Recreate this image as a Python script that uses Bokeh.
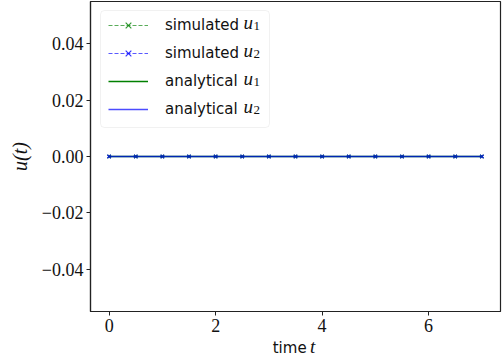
from bokeh.plotting import figure
from bokeh.models import Range1d, FixedTicker, Legend, LegendItem, Label, Div, BoxAnnotation
from bokeh.layouts import column
from bokeh.embed import file_html
from bokeh.resources import INLINE

# ---- data ----
t_sim = [0.0, 0.5, 1.0, 1.5, 2.0, 2.5, 3.0, 3.5, 4.0, 4.5, 5.0, 5.5, 6.0, 6.5, 7.0]
u1_sim = [0.0, 0.0, 0.0, 0.0, 0.0, 0.0, 0.0, 0.0, 0.0, 0.0, 0.0, 0.0, 0.0, 0.0, 0.0]
u2_sim = [0.0, 0.0, 0.0, 0.0, 0.0, 0.0, 0.0, 0.0, 0.0, 0.0, 0.0, 0.0, 0.0, 0.0, 0.0]
t_an = [0.0, 0.5, 1.0, 1.5, 2.0, 2.5, 3.0, 3.5, 4.0, 4.5, 5.0, 5.5, 6.0, 6.5, 7.0]
u1_an = [0.0, 0.0, 0.0, 0.0, 0.0, 0.0, 0.0, 0.0, 0.0, 0.0, 0.0, 0.0, 0.0, 0.0, 0.0]
u2_an = [0.0, 0.0, 0.0, 0.0, 0.0, 0.0, 0.0, 0.0, 0.0, 0.0, 0.0, 0.0, 0.0, 0.0, 0.0]

x_ticks = [0, 2, 4, 6]
x_tick_labels = ["0", "2", "4", "6"]
y_ticks = [-0.04, -0.02, 0.0, 0.02, 0.04]
y_tick_labels = ["\u22120.04", "\u22120.02", "0.00", "0.02", "0.04"]

legend_words = ["simulated", "simulated", "analytical", "analytical"]
legend_subs = ["1", "2", "1", "2"]
x_label_word = "time"
x_label_var = "t"
y_label = "u(t)"

GREEN = "#008000"
BLUE = "#0000ff"
SERIF = "Liberation Serif"
SANS = "DejaVu Sans"
INK = "#111111"

p = figure(width=503, height=336, output_backend="svg", toolbar_location=None,
           x_range=Range1d(-0.35, 7.35), y_range=Range1d(-0.055, 0.055),
           min_border_left=90, min_border_right=3, min_border_top=1, min_border_bottom=25)

p.grid.visible = False
p.outline_line_color = "#222222"
p.outline_line_width = 1.2
p.background_fill_color = "white"
p.border_fill_color = "white"

for ax in (p.xaxis[0], p.yaxis[0]):
    ax.axis_line_color = "#222222"
    ax.axis_line_width = 1.2
    ax.major_tick_line_color = "#222222"
    ax.major_tick_out = 4
    ax.major_tick_in = 0
    ax.minor_tick_line_color = None
    ax.major_label_text_font = SERIF
    ax.major_label_text_font_size = "18px"
    ax.major_label_text_color = INK

p.xaxis.ticker = FixedTicker(ticks=x_ticks)
p.xaxis.major_label_overrides = {v: s for v, s in zip(x_ticks, x_tick_labels)}
p.xaxis.major_label_standoff = 3
p.yaxis.ticker = FixedTicker(ticks=y_ticks)
p.yaxis.major_label_overrides = {v: s for v, s in zip(y_ticks, y_tick_labels)}
p.yaxis.major_label_standoff = 3

p.yaxis.axis_label = y_label
p.yaxis.axis_label_text_font = SERIF
p.yaxis.axis_label_text_font_style = "italic"
p.yaxis.axis_label_text_font_size = "20px"
p.yaxis.axis_label_text_color = INK
p.yaxis.axis_label_standoff = 8

# legend frame (drawn under the legend entries)
p.add_layout(BoxAnnotation(left=10, right=179, top=301, bottom=184,
                           left_units="screen", right_units="screen",
                           top_units="screen", bottom_units="screen",
                           fill_color="white", fill_alpha=0.85,
                           line_color="#d0d0d0", line_width=1, border_radius=4,
                           level="annotation", propagate_hover=False))

# ---- series ----
l1 = p.line(t_sim, u1_sim, line_color=GREEN, line_dash="4 2", line_width=1, line_alpha=0.65)
m1 = p.scatter(t_sim, u1_sim, marker="x", size=5, line_color=GREEN, line_width=1.2, line_alpha=0.8)
l2 = p.line(t_sim, u2_sim, line_color=BLUE, line_dash="4 2", line_width=1, line_alpha=0.65)
m2 = p.scatter(t_sim, u2_sim, marker="x", size=5, line_color=BLUE, line_width=1.2, line_alpha=0.8)
l3 = p.line(t_an, u1_an, line_color=GREEN, line_width=1.3)
l4 = p.line(t_an, u2_an, line_color=BLUE, line_width=1.3, line_alpha=0.7)

legend = Legend(items=[
    LegendItem(label=legend_words[0], renderers=[l1, m1]),
    LegendItem(label=legend_words[1], renderers=[l2, m2]),
    LegendItem(label=legend_words[2], renderers=[l3]),
    LegendItem(label=legend_words[3], renderers=[l4]),
], location=(18, 192), orientation="vertical")
legend.padding = 5
legend.margin = 0
legend.spacing = 8
legend.glyph_width = 40
legend.glyph_height = 20
legend.label_height = 20
legend.label_width = 102
legend.label_standoff = 17
legend.label_text_font = SANS
legend.label_text_font_size = "15px"
legend.label_text_color = INK
legend.border_line_color = None
legend.background_fill_color = None
legend.background_fill_alpha = 0
p.add_layout(legend, "center")

# math parts of the legend labels (u with subscripts)
row_y = [289, 261, 233, 205]
for sub, yy in zip(legend_subs, row_y):
    p.add_layout(Label(x=153, y=yy, x_units="screen", y_units="screen", text="u",
                       text_font=SERIF, text_font_style="italic", text_font_size="19px",
                       text_baseline="alphabetic", text_color=INK, level="overlay"))
    p.add_layout(Label(x=163, y=yy - 3, x_units="screen", y_units="screen", text=sub,
                       text_font=SERIF, text_font_size="13px",
                       text_baseline="alphabetic", text_color=INK, level="overlay"))

# x axis label "time t" with mixed fonts, as HTML text under the figure
xlabel = Div(
    text=('<div style="width:503px;height:24px;box-sizing:border-box;padding-left:85px;'
          'text-align:center;line-height:22px;color:%s;white-space:nowrap">'
          '<span style="font-family:\'%s\';font-size:15px">%s</span> '
          '<span style="font-family:\'%s\';font-style:italic;font-size:19px">%s</span>'
          '</div>') % (INK, SANS, x_label_word, SERIF, x_label_var),
    width=503, height=24, margin=0)

layout = column(p, xlabel, spacing=0)
open("out.html", "w").write(file_html(layout, INLINE))
